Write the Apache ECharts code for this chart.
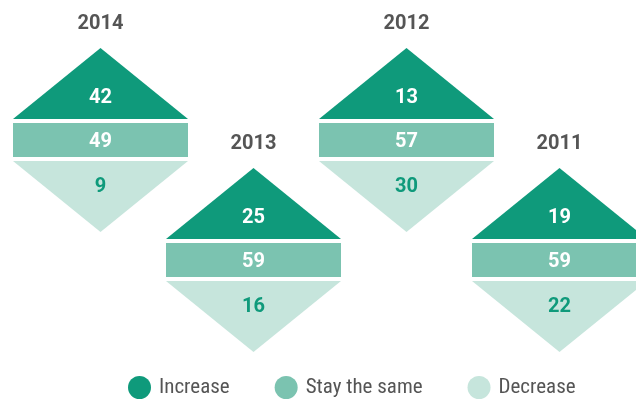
<!DOCTYPE html>
<html><head><meta charset="utf-8">
<script src="https://cdn.jsdelivr.net/npm/echarts@6/dist/echarts.min.js"></script>
<style>html,body{margin:0;padding:0;background:#fff}#c{width:636px;height:402px}</style>
</head><body><div id="c"></div>
<script>
const years = ['2014', '2013', '2012', '2011'];
const increase = [42, 25, 13, 19];
const stay = [49, 59, 57, 59];
const decrease = [9, 16, 30, 22];
const seriesNames = ['Increase', 'Stay the same', 'Decrease'];

const COLORS = ['#0f9a7b', '#7bc3b0', '#c6e5dc'];
const NUM_FONT = 'bold 20px Roboto, "DejaVu Sans", sans-serif';
const YEAR_FONT = 'bold 20px Roboto, "DejaVu Sans", sans-serif';
const HW = 87.5;

function rowData(vals) {
  return vals.map((v, i) => [i, i % 2, v]);
}

function makeRender(part) {
  return function (params, api) {
    const i = api.value(0);
    const c = api.coord([i, api.value(1)]);
    const cx = c[0], cy = c[1];
    const v = api.value(2);
    const children = [];
    if (part === 0) {
      children.push({ type: 'polygon', shape: { points: [[cx - HW, cy - 21], [cx + HW, cy - 21], [cx, cy - 92]] }, style: { fill: COLORS[0] } });
      children.push({ type: 'text', style: { text: String(v), x: cx, y: cy - 42, align: 'center', verticalAlign: 'middle', font: NUM_FONT, fill: '#ffffff' } });
      children.push({ type: 'text', style: { text: years[i], x: cx, y: cy - 116, align: 'center', verticalAlign: 'middle', font: YEAR_FONT, fill: '#555555' } });
    } else if (part === 1) {
      children.push({ type: 'rect', shape: { x: cx - HW, y: cy - 17, width: HW * 2, height: 34 }, style: { fill: COLORS[1] } });
      children.push({ type: 'text', style: { text: String(v), x: cx, y: cy + 2, align: 'center', verticalAlign: 'middle', font: NUM_FONT, fill: '#ffffff' } });
    } else {
      children.push({ type: 'polygon', shape: { points: [[cx - HW, cy + 21], [cx + HW, cy + 21], [cx, cy + 92]] }, style: { fill: COLORS[2] } });
      children.push({ type: 'text', style: { text: String(v), x: cx, y: cy + 47, align: 'center', verticalAlign: 'middle', font: NUM_FONT, fill: '#0f9a7b' } });
    }
    return { type: 'group', children: children };
  };
}

const chart = echarts.init(document.getElementById('c'), null, { renderer: 'canvas' });
chart.setOption({
  backgroundColor: '#ffffff',
  animation: false,
  grid: { left: 24, width: 617, top: 140, height: 120 },
  xAxis: { type: 'category', data: years, show: false, boundaryGap: true },
  yAxis: { type: 'value', min: 0, max: 1, inverse: true, show: false },
  legend: {
    left: 123, top: 371,
    icon: 'circle', itemWidth: 23, itemHeight: 23, itemGap: 45,
    textStyle: { fontSize: 21, color: '#555555', padding: [0, 0, 0, 3], fontFamily: '"Liberation Sans Narrow", "Roboto Condensed", Roboto, sans-serif' },
    data: seriesNames
  },
  series: [increase, stay, decrease].map((vals, k) => ({
    name: seriesNames[k],
    type: 'custom',
    itemStyle: { color: COLORS[k] },
    encode: { x: 0, y: 1 },
    data: rowData(vals),
    renderItem: makeRender(k),
    clip: false
  }))
});
</script></body></html>
